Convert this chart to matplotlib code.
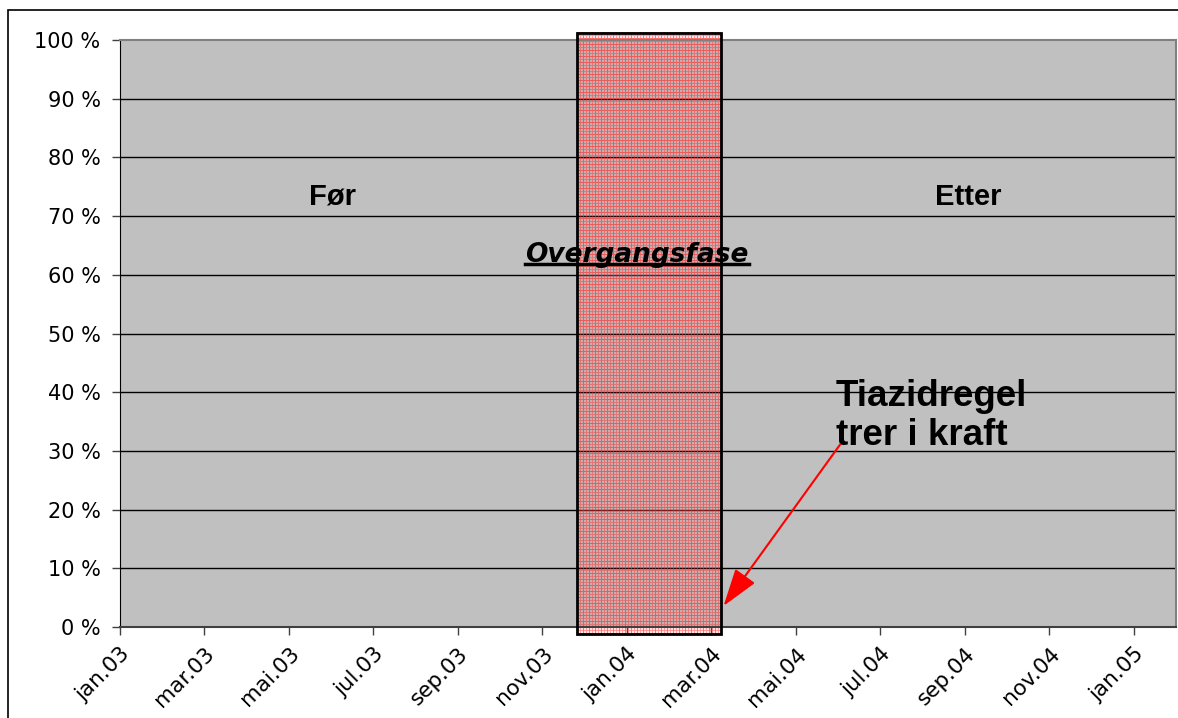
import numpy as np
import matplotlib.pyplot as plt
from matplotlib.patches import Rectangle
from matplotlib.transforms import offset_copy

# Månedsetiketter (hver andre måned fra jan.03)
maaneder = ['jan.03', 'mar.03', 'mai.03', 'jul.03', 'sep.03', 'nov.03',
            'jan.04', 'mar.04', 'mai.04', 'jul.04', 'sep.04', 'nov.04', 'jan.05']
maaned_pos = np.arange(0, 25, 2)          # måneder etter jan.03
y_ticks = np.arange(0, 101, 10)
y_labels = [f'{v} %' for v in y_ticks]

# Overgangsfasen (måneder etter jan.03)
fase_start = 10.82
fase_slutt = 14.22
# Tiazidregelen trer i kraft
regel_dato = 14.25

fig = plt.figure(figsize=(11.78, 7.18), dpi=100)
ax = fig.add_axes([120 / 1178, 91 / 718, 1056 / 1178, 587 / 718])
ax.set_facecolor('#c0c0c0')
ax.set_xlim(0, 25)
ax.set_ylim(0, 100)

# Horisontale rutenettlinjer
for v in y_ticks[1:-1]:
    ax.axhline(v, color='black', linewidth=1, zorder=1)

ax.set_yticks(y_ticks)
ax.set_yticklabels(y_labels, fontsize=15, family='DejaVu Sans')
ax.set_xticks(maaned_pos)
ax.set_xticklabels(maaneder, fontsize=15.5, family='DejaVu Sans',
                   rotation=45, ha='right', va='top', rotation_mode='anchor')
ax.tick_params(axis='both', direction='out', length=6, width=1, color='#404040')
ax.tick_params(axis='y', pad=8)
ax.tick_params(axis='x', pad=6)

for s in ['top', 'right']:
    ax.spines[s].set_color('#808080')
    ax.spines[s].set_linewidth(1.5)
ax.spines['left'].set_color('black')
ax.spines['bottom'].set_color('#404040')
ax.spines['bottom'].set_linewidth(1.5)

# Overgangsfase: rutemønster (tekstur) som går litt utenfor plottområdet
y0, y1 = -1.2, 101.2
p0 = ax.transData.transform((fase_start, y0))
p1 = ax.transData.transform((fase_slutt, y1))
w_px = int(round(p1[0] - p0[0]))
h_px = int(round(p1[1] - p0[1]))
jj, ii = np.meshgrid(np.arange(w_px), np.arange(h_px))
linje = (ii % 3 == 0) | (jj % 3 == 0)
sterk = (ii % 6 == 0) | (jj % 6 == 0)
tekstur = np.zeros((h_px, w_px, 4))
tekstur[..., 0] = 1.0
tekstur[..., 1] = 0.2
tekstur[..., 2] = 0.2
tekstur[..., 3] = np.where(sterk, 0.7, np.where(linje, 0.5, 0.12))
ax.imshow(tekstur, extent=(fase_start, fase_slutt, y0, y1), origin='lower',
          interpolation='nearest', aspect='auto', clip_on=False, zorder=2)
ax.set_xlim(0, 25)
ax.set_ylim(0, 100)
ramme = Rectangle((fase_start, y0), fase_slutt - fase_start, y1 - y0,
                  fill=False, edgecolor='black', linewidth=2,
                  clip_on=False, zorder=3)
ax.add_patch(ramme)

# Tekster
ax.text(5.04, 73.3, 'Før', fontsize=21, fontweight='bold',
        family='Liberation Sans', ha='center', va='center', zorder=5)
ax.text(20.07, 73.3, 'Etter', fontsize=21, fontweight='bold',
        family='Liberation Sans', ha='center', va='center', zorder=5)
t_over = ax.text(12.24, 62.2, 'Overgangsfase', fontsize=19, fontweight='bold',
                 style='italic', family='DejaVu Sans', ha='center', va='baseline',
                 zorder=5)
ax.text(16.95, 42.2, 'Tiazidregel\ntrer i kraft', fontsize=26.5, fontweight='bold',
        family='Liberation Sans', ha='left', va='top', linespacing=1.12, zorder=5)

# Pil til datoen regelen trer i kraft
ax.annotate('', xy=(regel_dato, 3.2), xytext=(17.09, 31.5),
            arrowprops=dict(arrowstyle='-|>,head_length=1.3,head_width=0.42',
                            color='red', linewidth=1.5, mutation_scale=18),
            annotation_clip=False, zorder=6)

# Understreking av "Overgangsfase"
fig.canvas.draw()
bb = t_over.get_window_extent().transformed(ax.transData.inverted())
ax.plot([bb.x0, bb.x1], [62.2, 62.2],
        transform=offset_copy(ax.transData, fig=fig, y=-2.5, units='dots'),
        color='black', linewidth=2.5, zorder=5, clip_on=False)

# Ytre ramme rundt diagrammet
fig.patches.append(Rectangle((8 / 1178, -0.1), 1.2, (708 / 718) + 0.1,
                             transform=fig.transFigure, fill=False,
                             edgecolor='black', linewidth=1.2))

fig.savefig('out.png', dpi=100)
